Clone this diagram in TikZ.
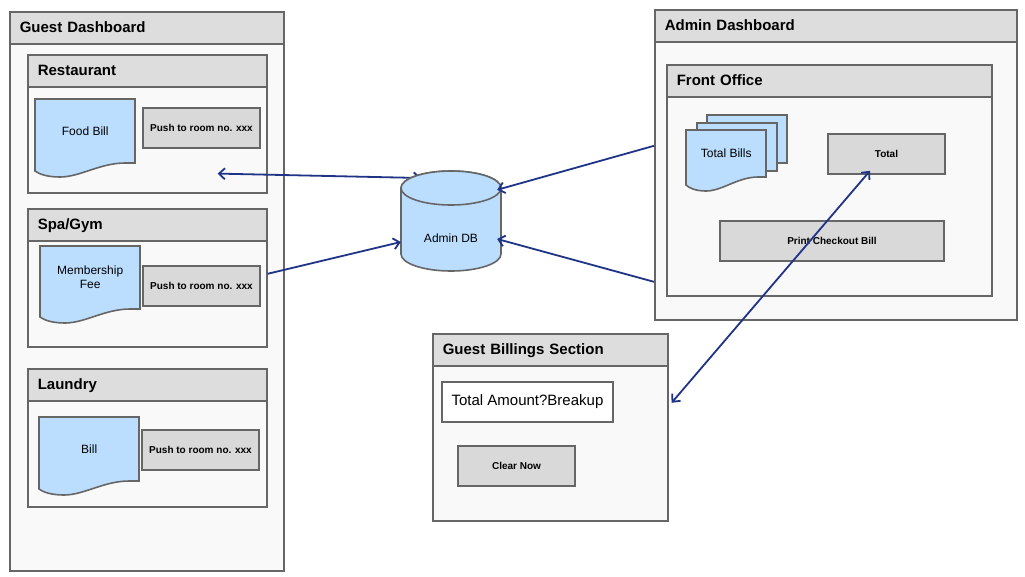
\documentclass[tikz,border=0pt]{standalone}
\usepackage{fontspec}
\setmainfont{Liberation Sans}
\usetikzlibrary{arrows.meta,calc,positioning}
\definecolor{linegray}{HTML}{666666}
\definecolor{headgray}{HTML}{DDDDDD}
\definecolor{panelwhite}{HTML}{F9F9F9}
\definecolor{btngray}{HTML}{D9D9D9}
\definecolor{billblue}{HTML}{BBDEFF}
\definecolor{linkblue}{RGB}{31,52,135}
% bill page with wavy bottom: name, x, y, width, height, text
\newcommand{\billdoc}[6]{%
\coordinate (#1-nw) at (#2,#3);
\draw[docline] (#1-nw) -- ($(#1-nw)+(#4,0)$) -- ($(#1-nw)+(#4,#5)$) -- ($(#1-nw)+(0.9*#4,#5)$)
  .. controls ($(#1-nw)+(0.65*#4,#5)$) and ($(#1-nw)+(0.45*#4,#5+14)$) .. ($(#1-nw)+(0.25*#4,#5+14)$)
  .. controls ($(#1-nw)+(0.12*#4,#5+14)$) and ($(#1-nw)+(0.04*#4,#5+11)$) .. ($(#1-nw)+(0,#5+8)$) -- cycle;
\node (#1) [doctext, minimum width=#4, minimum height=#5, anchor=north west] at (#1-nw) {#6};
}

\begin{document}
\begin{tikzpicture}[x=1pt,y=-1pt,
  panel/.style={draw=linegray, fill=panelwhite, line width=1.6pt, anchor=north west, inner sep=0pt},
  header/.style={draw=linegray, fill=headgray, line width=1.6pt, anchor=north west, minimum height=32,
    inner xsep=10pt, inner ysep=0pt, text height=11pt, text depth=1pt, align=left,
    font=\fontsize{15}{18}\selectfont\bfseries},
  button/.style={draw=linegray, fill=btngray, line width=1.6pt, minimum width=117, minimum height=40,
    inner sep=0pt, font=\fontsize{10}{12}\selectfont\bfseries},
  page/.style={draw=linegray, fill=billblue, line width=1.6pt, anchor=north west, inner sep=0pt},
  docline/.style={draw=linegray, fill=billblue, line width=1.6pt},
  doctext/.style={inner sep=0pt, align=center, font=\fontsize{12}{14}\selectfont},
  barb/.tip={Straight Barb[length=6pt,width=11pt]},
  link/.style={draw=linkblue, line width=1.8pt}]
\useasboundingbox (0,0) rectangle (1025,576);

% guest side
\node (guest) [panel, minimum width=274, minimum height=559] at (9,11) {};
\node (guesthead) [header, text width=254] at (9,11) {Guest Dashboard};

\node (restaurant) [panel, minimum width=239, minimum height=138] at (27,54) {};
\node (restauranthead) [header, text width=219] at (27,54) {Restaurant};
\billdoc{foodbill}{35}{99}{100}{64}{Food Bill}
\node (restaurantpush) [button] at (201.5,128) {Push to room no. xxx};

\node (spa) [panel, minimum width=239, minimum height=138] at (27,208) {};
\node (spahead) [header, text width=219] at (27,208) {Spa/Gym};
\billdoc{membership}{40}{246}{100}{63}{Membership\\Fee}
\node (spapush) [button] at (201.5,286) {Push to room no. xxx};

\node (laundry) [panel, minimum width=239, minimum height=138] at (27,368) {};
\node (laundryhead) [header, text width=219] at (27,368) {Laundry};
\billdoc{laundrybill}{39}{417}{100}{64}{Bill}
\node (laundrypush) [button] at (200.5,450) {Push to room no. xxx};

% admin side
\node (admin) [panel, minimum width=362, minimum height=310] at (654,9) {};
\node (adminhead) [header, text width=342] at (654,9) {Admin Dashboard};
\node (front) [panel, minimum width=325, minimum height=231] at (666,64) {};
\node (fronthead) [header, text width=305] at (666,64) {Front Office};
\node (billsback) [page, minimum width=80, minimum height=48] at (706,114) {};
\node (billsmid) [page, minimum width=80, minimum height=48] at (696,122) {};
\billdoc{totalbills}{686}{130}{80}{47}{Total Bills}
\node (total) [button] at (886.5,154) {Total};
\node (checkout) [button, minimum width=224] at (832,241) {Print Checkout Bill};

% billing section
\node (billing) [panel, minimum width=235, minimum height=187] at (432,333) {};
\node (billinghead) [header, text width=215] at (432,333) {Guest Billings Section};
\node (breakup) [draw=linegray, fill=white, line width=1.6pt, minimum width=171, minimum height=40,
  inner sep=0pt, font=\fontsize{15}{17}\selectfont] at (527.5,402) {Total Amount?Breakup};
\node (clearnow) [button] at (516.5,466) {Clear Now};

% database
\coordinate (dbhidden) at (421,178);
\draw[link, barb-barb] ($(restaurant.south east)+(-50,-20)$) -- (dbhidden);
\draw[docline] (401,188) -- (401,254) arc[start angle=180, end angle=360, x radius=50pt, y radius=17pt]
  -- (501,188) arc[start angle=0, end angle=180, x radius=50pt, y radius=17pt] -- cycle;
\draw[docline] (451,188) ellipse [x radius=50pt, y radius=17pt];
\node (admindb) [doctext, minimum width=100, minimum height=66] at (451,238) {Admin DB};

\draw[link, -barb] ($(spa.east)+(0,-4)$) -- ($(admindb.west)+(0,4)$);
\draw[link, -barb] ($(admin.west)+(0,-19)$) -- ($(admindb.north east)+(-4,-15)$);
\draw[link, -barb] ($(admin.west)+(0,117)$) -- ($(admindb.east)+(-4,1)$);
\draw[link, barb-barb] ($(billing.east)+(3,-24.5)$) -- ($(total.south)+(-16.5,-4)$);
\end{tikzpicture}
\end{document}
